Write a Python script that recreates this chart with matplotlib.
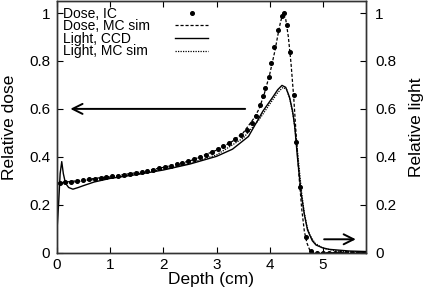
import matplotlib
matplotlib.use("Agg")
import matplotlib.pyplot as plt

plt.rcParams['font.family'] = ['Liberation Sans', 'DejaVu Sans']

# Dose, ionisation chamber (points)
ic_x = [0.05, 0.16, 0.27, 0.38, 0.49, 0.60, 0.71, 0.82, 0.93, 1.04, 1.15, 1.26,
        1.37, 1.48, 1.59, 1.70, 1.81, 1.92, 2.03, 2.14, 2.25, 2.36, 2.47, 2.58,
        2.69, 2.80, 2.91, 3.02, 3.13, 3.24, 3.35, 3.46, 3.57, 3.66, 3.74, 3.82,
        3.87, 3.92, 3.98, 4.03, 4.08, 4.16, 4.23, 4.26, 4.32, 4.38, 4.45, 4.50,
        4.57, 4.68, 4.78, 4.89, 5.00, 5.11, 5.22, 5.33, 5.44, 5.55, 5.66, 5.77]
ic_y = [0.291, 0.294, 0.297, 0.300, 0.303, 0.306, 0.309, 0.312, 0.316, 0.319, 0.322, 0.326,
        0.330, 0.334, 0.338, 0.342, 0.347, 0.352, 0.357, 0.362, 0.369, 0.375, 0.382, 0.390,
        0.399, 0.408, 0.419, 0.431, 0.444, 0.458, 0.474, 0.492, 0.514, 0.540, 0.570, 0.618,
        0.652, 0.687, 0.735, 0.790, 0.860, 0.930, 0.986, 1.000, 0.950, 0.837, 0.660, 0.460,
        0.276, 0.067, 0.007, 0.0, 0.0, 0.0, 0.0, 0.0, 0.0, 0.0, 0.0, 0.0]

# Dose, Monte Carlo simulation (dashed)
dmc_x = [0.0, 0.5, 1.0, 1.5, 2.0, 2.5, 3.0, 3.3, 3.5, 3.7, 3.8, 3.9, 4.0, 4.1,
         4.15, 4.2, 4.25, 4.3, 4.35, 4.4, 4.45, 4.5, 4.55, 4.6, 4.65, 4.7, 4.75,
         4.8, 5.8]
dmc_y = [0.290, 0.304, 0.318, 0.334, 0.356, 0.383, 0.428, 0.465, 0.500, 0.560,
         0.600, 0.665, 0.745, 0.845, 0.905, 0.960, 1.000, 0.975, 0.900, 0.790,
         0.650, 0.480, 0.320, 0.185, 0.090, 0.040, 0.012, 0.0, 0.0]

# Light, CCD measurement (solid)
ccd_x = [0.0, 0.03, 0.06, 0.09, 0.12, 0.16, 0.22, 0.30, 0.40, 0.50, 0.70, 1.0,
         1.5, 2.0, 2.5, 3.0, 3.3, 3.6, 3.87, 4.06, 4.15, 4.23, 4.30, 4.37, 4.43,
         4.47, 4.52, 4.59, 4.65, 4.71, 4.80, 4.87, 5.0, 5.12, 5.5, 5.8]
ccd_y = [0.090, 0.200, 0.330, 0.380, 0.330, 0.290, 0.272, 0.265, 0.272, 0.280,
         0.295, 0.310, 0.326, 0.345, 0.370, 0.402, 0.432, 0.485, 0.590, 0.650,
         0.680, 0.698, 0.690, 0.650, 0.590, 0.526, 0.400, 0.248, 0.160, 0.095,
         0.050, 0.032, 0.020, 0.014, 0.007, 0.005]

# Light, Monte Carlo simulation (dotted)
lmc_x = [0.0, 0.5, 1.0, 1.5, 2.0, 2.5, 3.0, 3.5, 3.8, 4.0, 4.15, 4.25, 4.32,
         4.38, 4.45, 4.50, 4.55, 4.60, 4.65, 4.70, 4.75, 4.85, 5.0, 5.3, 5.8]
lmc_y = [0.285, 0.300, 0.313, 0.328, 0.348, 0.373, 0.408, 0.478, 0.555, 0.620,
         0.668, 0.690, 0.680, 0.640, 0.560, 0.470, 0.360, 0.250, 0.165, 0.110,
         0.075, 0.040, 0.018, 0.006, 0.002]

x_ticks = [0, 1, 2, 3, 4, 5]
y_ticks = [0, 0.2, 0.4, 0.6, 0.8, 1]
y_labels = ['0', '0.2', '0.4', '0.6', '0.8', '1']

fig = plt.figure(figsize=(4.25, 2.93), dpi=100)
ax = fig.add_axes([0.134, 0.1375, 0.726, 0.859])
ax2 = ax.twinx()

h1, = ax.plot(ic_x, ic_y, linestyle='none', marker='o', markersize=2.6,
              color='black', label='Dose, IC')
h2, = ax.plot(dmc_x, dmc_y, linestyle=(0, (2.5, 1.5)), linewidth=0.9,
              color='black', label='Dose, MC sim')
h3, = ax2.plot(ccd_x, ccd_y, linestyle='-', linewidth=1.0,
               color='black', label='Light, CCD')
h4, = ax2.plot(lmc_x, lmc_y, linestyle=(0, (1, 1)), linewidth=0.9,
               color='black', label='Light, MC sim')

for a in (ax, ax2):
    a.set_xlim(0, 5.8)
    a.set_ylim(0, 1.05)
    a.set_yticks(y_ticks)
    a.set_yticklabels(y_labels)
    for s in a.spines.values():
        s.set_linewidth(1.0)
        s.set_color('#333333')

ax.set_xticks(x_ticks)
ax.tick_params(axis='y', direction='in', length=4, width=0.8,
               labelsize=11, pad=5)
ax.tick_params(axis='x', direction='in', length=4, width=0.8,
               labelsize=11, top=True, pad=3.5)
ax2.tick_params(axis='y', direction='in', length=4, width=0.8,
                labelsize=11, pad=7)

ax.set_xlabel('Depth (cm)', fontsize=12.5, labelpad=0)
ax.set_ylabel('Relative dose', fontsize=12.5)
ax.yaxis.set_label_coords(-0.13, 0.5)
ax2.set_ylabel('Relative light', fontsize=12.5, labelpad=9)

# arrows pointing to the respective axes
ax.annotate('', xy=(0.2, 0.6), xytext=(3.59, 0.6),
            arrowprops=dict(arrowstyle='->', lw=1.4, color='black',
                            mutation_scale=18))
ax.annotate('', xy=(5.67, 0.056), xytext=(4.97, 0.056),
            arrowprops=dict(arrowstyle='->', lw=1.4, color='black',
                            mutation_scale=18))

leg_fs = 10
base_sep = 18.0  # points between longest label and its key
leg = ax2.legend(handles=[h1, h2, h3, h4], loc='upper left',
                 bbox_to_anchor=(0.02, 0.978), frameon=False,
                 markerfirst=False, fontsize=leg_fs, handlelength=2.4,
                 borderaxespad=0.0, labelspacing=-0.1,
                 handletextpad=base_sep / leg_fs, borderpad=0.0)

# left-align the labels while keeping the keys in one column
fig.canvas.draw()
renderer = fig.canvas.get_renderer()
widths = [t.get_window_extent(renderer).width for t in leg.get_texts()]
maxw = max(widths)
col = leg._legend_handle_box.get_children()[0]
col.align = 'left'
for row, w in zip(col.get_children(), widths):
    row.sep = base_sep + (maxw - w) * 72.0 / fig.dpi

fig.savefig('out.png', dpi=100)
